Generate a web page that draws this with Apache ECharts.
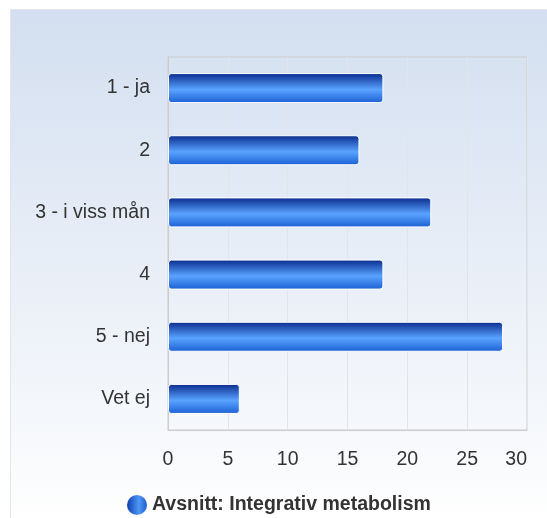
<!DOCTYPE html>
<html>
<head>
<meta charset="utf-8">
<script src="https://cdn.jsdelivr.net/npm/echarts@6/dist/echarts.min.js"></script>
<style>
html,body{margin:0;padding:0;background:#fff;}
#chart{width:547px;height:518px;}
</style>
</head>
<body>
<div id="chart"></div>
<script>
var categories = ["1 - ja", "2", "3 - i viss mån", "4", "5 - nej", "Vet ej"];
var values = [18, 16, 22, 18, 28, 6];
var seriesName = "Avsnitt: Integrativ metabolism";
var xTicks = { min: 0, max: 30, interval: 5 };

var chart = echarts.init(document.getElementById('chart'));
var barGrad = new echarts.graphic.LinearGradient(0, 0, 0, 1, [
  { offset: 0, color: '#082a8c' },
  { offset: 0.55, color: '#5aa3ff' },
  { offset: 1, color: '#1b5fd2' }
]);
var legendGrad = new echarts.graphic.LinearGradient(0, 0, 1, 0, [
  { offset: 0, color: '#0c3fb0' },
  { offset: 0.6, color: '#4f98f5' },
  { offset: 1, color: '#1d5bd0' }
]);
var FONT = 'Liberation Sans, Arial, sans-serif';
chart.setOption({
  animation: false,
  textStyle: { fontFamily: FONT },
  graphic: [{
    type: 'rect',
    z: -10,
    silent: true,
    shape: { x: 10, y: 9, width: 537, height: 509 },
    style: {
      fill: new echarts.graphic.LinearGradient(0, 0, 0, 1, [
        { offset: 0, color: '#d3dff0' },
        { offset: 0.85, color: '#f7f9fc' },
        { offset: 1, color: '#ffffff' }
      ])
    }
  }, {
    type: 'polyline',
    z: -9,
    silent: true,
    shape: { points: [[10.5, 518], [10.5, 9.5], [547, 9.5]] },
    style: { stroke: '#e2e6ec', lineWidth: 1, fill: null }
  }],
  grid: { left: 168, top: 57, right: 20, bottom: 88, show: true, borderColor: '#cccccc', borderWidth: 1, backgroundColor: 'transparent' },
  legend: {
    top: 495,
    left: 127,
    itemWidth: 20,
    itemHeight: 20,
    itemGap: 6,
    textStyle: { fontSize: 19.5, fontWeight: 'bold', color: '#333333', fontFamily: FONT, padding: [0, 0, 0, 0] },
    padding: 0,
    data: [{ name: seriesName, icon: 'circle', itemStyle: { color: legendGrad, borderWidth: 0 } }]
  },
  xAxis: {
    type: 'value',
    min: xTicks.min, max: xTicks.max, interval: xTicks.interval,
    axisLine: { show: true, lineStyle: { color: '#cccccc' } },
    axisTick: { show: false },
    axisLabel: { fontSize: 19.5, color: '#333333', margin: 20, alignMaxLabel: 'right' },
    splitLine: { show: true, lineStyle: { color: '#e2e4e8' } }
  },
  yAxis: {
    type: 'category',
    inverse: true,
    data: categories,
    axisLine: { show: true, lineStyle: { color: '#cccccc' } },
    axisTick: { show: false },
    axisLabel: { fontSize: 19.5, color: '#333333', margin: 18 },
    splitLine: { show: false }
  },
  series: [{
    name: seriesName,
    type: 'bar',
    data: values,
    barWidth: 30,
    itemStyle: { color: barGrad, borderColor: '#ffffff', borderWidth: 1, borderRadius: 3 }
  }]
});
</script>
</body>
</html>
